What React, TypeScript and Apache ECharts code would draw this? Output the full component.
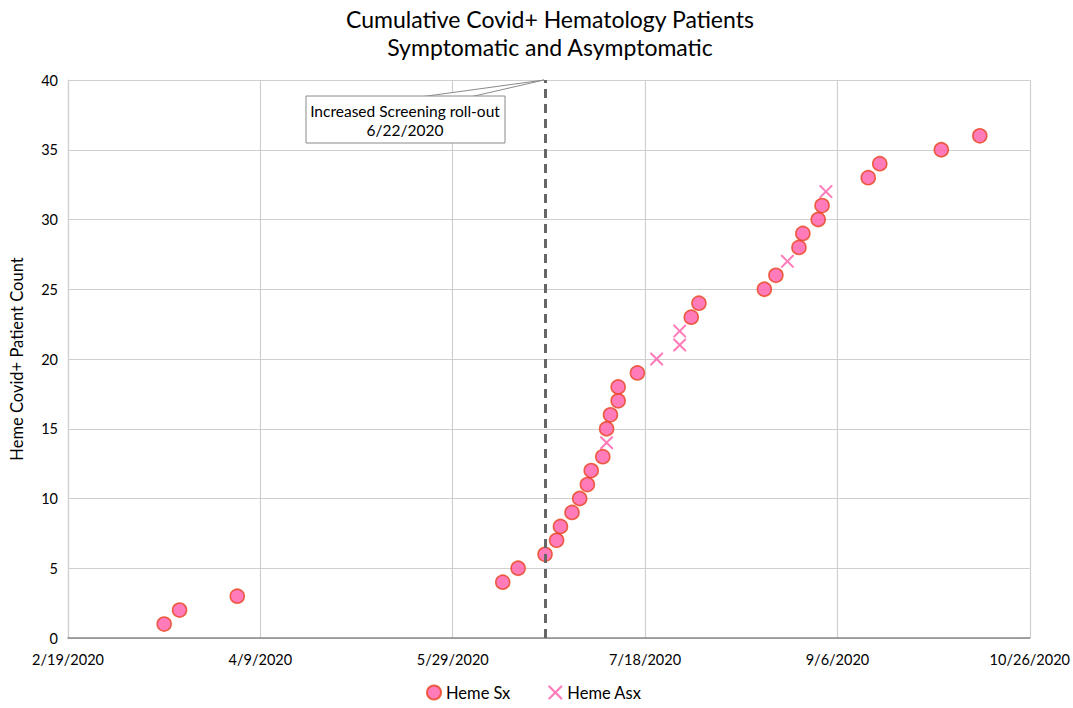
import React, { useEffect, useRef } from "react";
import * as echarts from "echarts";

const START_DATE = "2/19/2020";
const X_TICK_STEP_DAYS = 50;
const X_SPAN_DAYS = 250;
const Y_TICKS = [0, 5, 10, 15, 20, 25, 30, 35, 40];

const sxDates = [
  "3/15/2020", "3/19/2020", "4/3/2020", "6/11/2020", "6/15/2020", "6/22/2020",
  "6/25/2020", "6/26/2020", "6/29/2020", "7/1/2020", "7/3/2020", "7/4/2020",
  "7/7/2020", "7/8/2020", "7/9/2020", "7/11/2020", "7/11/2020", "7/16/2020",
  "7/30/2020", "8/1/2020", "8/18/2020", "8/21/2020", "8/27/2020", "8/28/2020",
  "9/1/2020", "9/2/2020", "9/14/2020", "9/17/2020", "10/3/2020", "10/13/2020",
];
const sxCounts = [
  1, 2, 3, 4, 5, 6, 7, 8, 9, 10, 11, 12, 13, 15, 16, 17, 18, 19, 23, 24, 25,
  26, 28, 29, 30, 31, 33, 34, 35, 36,
];

const asxDates = ["7/8/2020", "7/21/2020", "7/27/2020", "7/27/2020", "8/24/2020", "9/3/2020"];
const asxCounts = [14, 20, 21, 22, 27, 32];

const screeningDate = "6/22/2020";
const screeningLabel = ["Increased Screening roll-out", "6/22/2020"];

const DAY_MS = 86400000;
function toUTC(s: string): number {
  const [m, d, y] = s.split("/").map(Number);
  return Date.UTC(y, m - 1, d);
}
const START = toUTC(START_DATE);
function dayOffset(s: string): number {
  return Math.round((toUTC(s) - START) / DAY_MS);
}
function fmtDay(v: number): string {
  const dt = new Date(START + v * DAY_MS);
  return `${dt.getUTCMonth() + 1}/${dt.getUTCDate()}/${dt.getUTCFullYear()}`;
}

const FONT = "Lato, 'Liberation Sans', sans-serif";
const CROSS =
  "path://M0,0 L2.2,0 L10,7.8 L17.8,0 L20,0 L20,2.2 L12.2,10 L20,17.8 L20,20 L17.8,20 L10,12.2 L2.2,20 L0,20 L0,17.8 L7.8,10 L0,2.2 Z";

export default function App() {
  const ref = useRef<HTMLDivElement>(null);
  useEffect(() => {
    if (!ref.current) return;
    const chart = echarts.init(ref.current, null, { renderer: "svg" });
    const sxData = sxDates.map((d, i) => [dayOffset(d), sxCounts[i]]);
    const asxData = asxDates.map((d, i) => [dayOffset(d), asxCounts[i]]);
    chart.setOption({
      animation: false,
      backgroundColor: "#ffffff",
      title: {
        text: "Cumulative Covid+ Hematology Patients\nSymptomatic and Asymptomatic",
        left: 545,
        textAlign: "center",
        top: 0,
        textStyle: {
          fontFamily: FONT,
          fontSize: 23,
          fontWeight: "normal",
          color: "#000",
          lineHeight: 28,
        },
      },
      grid: { left: 67, right: 41, top: 80, bottom: 70, containLabel: false },
      legend: {
        bottom: 2,
        left: 421,
        itemGap: 38,
        itemWidth: 14,
        itemHeight: 14,
        textStyle: { fontFamily: FONT, fontSize: 16.5, color: "#000" },
        data: ["Heme Sx", "Heme Asx"],
      },
      xAxis: {
        type: "value",
        min: 0,
        max: X_SPAN_DAYS,
        interval: X_TICK_STEP_DAYS,
        axisLine: { show: true, lineStyle: { color: "#888", width: 1.5 } },
        axisTick: { show: false },
        splitLine: { show: true, lineStyle: { color: "#cfcfcf", width: 1.2 } },
        axisLabel: {
          formatter: (v: number) => fmtDay(v),
          fontFamily: FONT,
          fontSize: 14.5,
          color: "#000",
          margin: 14,
        },
      },
      yAxis: {
        type: "value",
        min: Y_TICKS[0],
        max: Y_TICKS[Y_TICKS.length - 1],
        interval: Y_TICKS[1] - Y_TICKS[0],
        name: "Heme Covid+ Patient Count",
        nameLocation: "middle",
        nameGap: 43,
        nameTextStyle: { fontFamily: FONT, fontSize: 16.5, color: "#000" },
        axisLine: { show: true, lineStyle: { color: "#cfcfcf", width: 1.2 } },
        axisTick: { show: false },
        splitLine: { show: true, lineStyle: { color: "#cfcfcf", width: 1.2 } },
        axisLabel: { fontFamily: FONT, fontSize: 14.5, color: "#000", margin: 10 },
      },
      series: [
        {
          name: "Heme Sx",
          type: "scatter",
          data: sxData,
          symbol: "circle",
          symbolSize: 14,
          itemStyle: { color: "#ff5aa8", borderColor: "#e8421a", borderWidth: 1.6 },
          markLine: {
            silent: true,
            symbol: ["none", "none"],
            label: { show: false },
            lineStyle: { color: "#666", type: [9, 6], width: 3 },
            data: [{ xAxis: dayOffset(screeningDate) }],
          },
          z: 3,
        },
        {
          name: "Heme Asx",
          type: "scatter",
          data: asxData,
          symbol: CROSS,
          symbolSize: 13,
          itemStyle: { color: "#ff5aa8" },
          z: 4,
        },
      ],
      graphic: [
        {
          type: "polygon",
          shape: { points: [[420, 97], [544, 80], [470, 97]] },
          style: { fill: "#fff", stroke: "#8a8a8a", lineWidth: 1 },
          z: 10,
        },
        {
          type: "rect",
          shape: { x: 306, y: 96, width: 199, height: 47 },
          style: { fill: "#fff", stroke: "#8a8a8a", lineWidth: 1 },
          z: 11,
        },
        {
          type: "text",
          x: 405,
          y: 101,
          style: {
            text: screeningLabel.join("\n"),
            fontFamily: FONT,
            fontSize: 15.5,
            lineHeight: 19,
            fill: "#000",
            align: "center",
            verticalAlign: "top",
          },
          z: 12,
        },
      ],
    });
    return () => chart.dispose();
  }, []);
  return <div ref={ref} style={{ width: 1073, height: 708, position: "absolute", left: 0, top: 0 }} />;
}
